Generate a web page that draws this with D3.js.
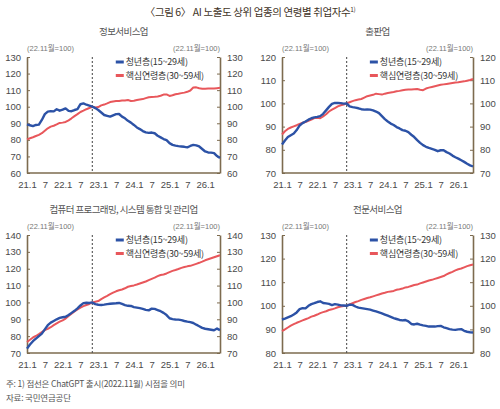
<!DOCTYPE html>
<html>
<head>
<meta charset="utf-8">
<script src="https://cdn.jsdelivr.net/npm/d3@7"></script>
<style>
body { margin: 0; background: #fff; }
svg { display: block; }
</style>
</head>
<body>
<div class="container"></div>
<script>

// ---- data (22.11 = 100), monthly from 21.1 ----
var mainTitle = "〈그림 6〉 AI 노출도 상위 업종의 연령별 취업자수";
var panelTitles = ["정보서비스업", "출판업", "컴퓨터 프로그래밍, 시스템 통합 및 관리업", "전문서비스업"];
var seriesNames = ["청년층(15~29세)", "핵심연령층(30~59세)"];
var baseLabel = "(22.11월=100)";
var xTickIdx = [0, 6, 12, 18, 24, 30, 36, 42, 48, 54, 60];
var xTickLabels = ["21.1", "7", "22.1", "7", "23.1", "7", "24.1", "7", "25.1", "7", "26.1"];
var chatgptIdx = 22;
var notes = ["주: 1) 점선은 ChatGPT 출시(2022.11월) 시점을 의미", "자료: 국민연금공단"];

var yTicks1 = [60, 70, 80, 90, 100, 110, 120, 130];
var yTicks2 = [70, 80, 90, 100, 110, 120];
var yTicks3 = [70, 80, 90, 100, 110, 120, 130, 140];
var yTicks4 = [80, 90, 100, 110, 120, 130];

var youth1 = [89.4, 88.8, 88.3, 89.0, 89.2, 92.0, 95.5, 97.0, 97.3, 97.2, 98.5, 97.6, 98.2, 99.0, 97.5, 97.3, 98.0, 98.5, 101.5, 102.0,
  101.2, 100.6, 100.0, 99.2, 98.0, 96.5, 95.0, 94.5, 94.0, 94.8, 95.5, 95.6, 94.0, 93.0, 91.5, 90.4, 89.0, 87.5, 86.5, 85.3,
  84.5, 84.2, 84.4, 84.0, 82.5, 81.5, 80.5, 79.8, 78.0, 77.0, 76.5, 76.2, 76.0, 75.8, 75.5, 76.3, 77.0, 76.7, 76.0, 74.5,
  73.0, 72.4, 72.3, 72.0, 70.2, 69.0];
var core1 = [80.3, 81.0, 81.6, 82.3, 83.0, 84.0, 85.5, 87.0, 88.0, 88.5, 89.3, 90.2, 90.4, 90.8, 91.8, 93.0, 94.3, 95.5, 96.8, 97.6,
  98.5, 99.2, 100.0, 99.6, 99.8, 100.8, 101.3, 102.0, 102.8, 103.2, 103.4, 103.4, 103.7, 103.8, 104.0, 103.5, 103.6, 104.0, 104.3, 104.6,
  105.2, 105.7, 105.9, 106.0, 106.2, 106.6, 107.3, 107.4, 106.5, 106.9, 107.5, 107.8, 108.2, 108.5, 109.0, 109.8, 111.6, 111.7, 111.1, 110.9,
  110.9, 111.0, 111.0, 111.0, 111.2, 111.4];

var youth2 = [82.3, 84.0, 85.5, 86.3, 87.0, 88.5, 90.5, 91.5, 92.2, 93.0, 93.6, 94.0, 94.2, 94.5, 95.5, 97.0, 98.5, 99.8, 100.2, 100.2,
  100.1, 99.9, 100.0, 98.7, 98.4, 98.2, 97.9, 97.5, 97.3, 97.4, 97.3, 97.0, 96.5, 95.8, 94.5, 93.2, 92.2, 91.3, 90.7, 89.8,
  89.2, 88.5, 88.2, 87.6, 86.5, 85.5, 84.2, 83.0, 82.0, 81.3, 80.8, 80.4, 80.0, 79.4, 79.8, 79.8, 79.0, 78.4, 77.5, 76.8,
  76.2, 75.5, 74.8, 74.0, 73.3, 72.8];
var core2 = [86.6, 88.0, 89.0, 89.6, 90.1, 90.6, 91.2, 91.7, 92.0, 92.5, 93.0, 93.7, 93.8, 93.6, 94.4, 95.3, 96.5, 97.3, 98.0, 98.7,
  99.2, 99.5, 100.0, 100.5, 101.0, 101.4, 101.7, 101.9, 102.5, 103.1, 103.4, 103.7, 104.2, 104.0, 103.8, 104.2, 104.5, 104.7, 104.9, 105.2,
  105.4, 105.7, 105.9, 106.0, 106.0, 106.1, 106.2, 105.9, 105.7, 106.4, 106.8, 107.1, 107.4, 107.7, 108.0, 108.2, 108.4, 108.6, 108.8, 109.0,
  109.1, 109.3, 109.5, 109.8, 110.1, 110.5];

var youth3 = [72.6, 75.0, 77.0, 78.5, 80.0, 81.5, 84.0, 86.5, 88.0, 89.0, 90.0, 90.8, 91.2, 91.5, 92.6, 93.8, 95.0, 96.5, 98.2, 99.6,
  99.8, 99.7, 100.0, 99.0, 98.6, 98.5, 98.7, 99.0, 99.2, 99.4, 99.5, 99.7, 99.1, 98.4, 98.0, 97.9, 97.2, 96.9, 96.6, 96.2,
  95.6, 95.3, 96.3, 96.2, 95.5, 94.8, 93.8, 92.5, 90.6, 90.1, 89.9, 89.8, 89.5, 89.0, 88.6, 88.3, 87.8, 86.8, 85.9, 84.9,
  84.4, 84.1, 83.8, 83.5, 84.5, 83.6];
var core3 = [76.5, 77.9, 79.2, 80.1, 81.2, 82.4, 83.6, 84.3, 85.3, 86.5, 87.6, 88.6, 89.4, 90.4, 92.0, 93.3, 94.6, 95.8, 96.9, 97.8,
  98.5, 99.1, 100.0, 100.4, 100.8, 102.0, 103.0, 103.9, 104.9, 105.8, 106.6, 107.2, 107.7, 108.4, 109.3, 109.7, 110.1, 110.6, 111.2, 111.8,
  112.4, 113.2, 114.0, 114.7, 115.6, 116.3, 116.6, 117.2, 118.0, 118.7, 119.2, 119.8, 120.5, 121.0, 121.4, 121.7, 122.3, 122.9, 123.5, 124.2,
  125.0, 125.6, 126.2, 126.8, 127.4, 128.0];

var youth4 = [94.2, 94.6, 95.1, 95.6, 96.3, 97.2, 98.6, 99.0, 98.9, 100.0, 100.7, 101.1, 101.6, 101.9, 101.2, 101.0, 100.8, 100.3, 100.7, 100.5,
  100.2, 100.1, 100.0, 100.5, 100.4, 99.7, 99.2, 99.0, 98.8, 98.6, 98.4, 98.0, 97.6, 97.2, 96.8, 96.3, 95.8, 95.3, 94.8, 94.4,
  94.0, 93.8, 94.0, 93.4, 92.3, 92.1, 92.4, 92.0, 91.7, 91.5, 91.2, 91.3, 91.2, 91.4, 91.5, 90.9, 90.5, 90.1, 89.9, 89.8,
  90.0, 90.1, 89.4, 89.0, 88.8, 88.7];
var core4 = [89.3, 90.0, 90.8, 91.6, 92.2, 92.8, 93.3, 93.8, 94.3, 94.8, 95.4, 95.8, 96.3, 96.9, 97.3, 97.7, 98.2, 98.5, 98.9, 99.4,
  99.7, 99.9, 100.0, 100.6, 101.1, 101.6, 102.0, 102.5, 102.9, 103.3, 103.6, 104.0, 104.4, 104.8, 105.2, 105.5, 105.9, 106.1, 106.3, 106.8,
  107.0, 107.3, 107.8, 108.0, 108.4, 108.8, 109.0, 109.5, 109.9, 110.3, 110.7, 111.0, 111.4, 111.8, 112.2, 112.6, 113.3, 113.9, 114.4, 115.0,
  115.5, 115.8, 116.3, 116.8, 117.2, 117.5];

// ---- layout ----
var W = 500, H = 409;
var colX = [[27, 220], [282, 473]];
var rowY = [[57, 173], [235, 353]];
var axisColor = "#7d6b4f";
var textColor = "#4a4a4a";
var numFont = "'Liberation Sans', Arial, 'Noto Sans CJK KR', sans-serif";
var krFont = "'Noto Sans CJK KR', 'Noto Sans', sans-serif";
var youthColor = "#2c52a6";
var coreColor = "#e8575b";

var panels = [
	{ title: panelTitles[0], ticks: yTicks1, youth: youth1, core: core1, col: 0, row: 0 },
	{ title: panelTitles[1], ticks: yTicks2, youth: youth2, core: core2, col: 1, row: 0 },
	{ title: panelTitles[2], ticks: yTicks3, youth: youth3, core: core3, col: 0, row: 1 },
	{ title: panelTitles[3], ticks: yTicks4, youth: youth4, core: core4, col: 1, row: 1 }
];

function makeStage(w, h) {
	var stage = d3.select(".container")
		.append("svg")
		.attr("width", w)
		.attr("height", h)
		.attr("viewBox", "0 0 " + w + " " + h);
	return stage;
}

function styleAxis(g) {
	g.select(".domain").attr("stroke", axisColor).attr("stroke-width", 1.6);
	g.selectAll(".tick line").attr("stroke", axisColor).attr("stroke-width", 1);
	g.selectAll(".tick text")
		.attr("fill", textColor)
		.style("font-family", numFont)
		.style("font-size", "9.5px");
}

function drawPanel(stage, p) {
	var x0 = colX[p.col][0], x1 = colX[p.col][1];
	var yb = rowY[p.row][1], yt = rowY[p.row][0];
	var n = p.youth.length;

	var x = d3.scaleLinear().domain([0, n - 1]).range([x0, x1]);
	var y = d3.scaleLinear().domain(d3.extent(p.ticks)).range([yb, yt]);

	var g = stage.append("g");

	// panel title
	g.append("text")
		.attr("x", (x0 + x1) / 2)
		.attr("y", yt - 22)
		.attr("text-anchor", "middle")
		.attr("fill", "#555")
		.style("font-family", krFont)
		.style("font-size", "9.5px")
		.style("letter-spacing", "-0.6px")
		.text(p.title);

	// base labels on both sides
	g.append("text")
		.attr("x", x0)
		.attr("y", yt - 6)
		.attr("fill", "#777")
		.style("font-family", numFont)
		.style("font-size", "7.5px")
		.text(baseLabel);
	g.append("text")
		.attr("x", x1)
		.attr("y", yt - 6)
		.attr("text-anchor", "end")
		.attr("fill", "#777")
		.style("font-family", numFont)
		.style("font-size", "7.5px")
		.text(baseLabel);

	// axes
	var left = g.append("g")
		.attr("transform", "translate(" + x0 + ",0)")
		.call(d3.axisLeft(y).tickValues(p.ticks).tickSizeInner(-3).tickSizeOuter(0).tickPadding(6));
	styleAxis(left);

	var right = g.append("g")
		.attr("transform", "translate(" + x1 + ",0)")
		.call(d3.axisRight(y).tickValues(p.ticks).tickSizeInner(-3).tickSizeOuter(0).tickPadding(7));
	styleAxis(right);

	var bottom = g.append("g")
		.attr("transform", "translate(0," + yb + ")")
		.call(d3.axisBottom(x).tickValues(xTickIdx)
			.tickFormat(function (d, i) { return xTickLabels[i]; })
			.tickSize(0).tickPadding(8));
	styleAxis(bottom);
	bottom.select(".domain").attr("d", "M" + x0 + ",0H" + x1);

	// ChatGPT release marker
	g.append("line")
		.attr("x1", x(chatgptIdx)).attr("x2", x(chatgptIdx))
		.attr("y1", yt).attr("y2", yb)
		.attr("stroke", "#555")
		.attr("stroke-width", 1.1)
		.attr("stroke-dasharray", "2,2");

	var line = d3.line()
		.x(function (d, i) { return x(i); })
		.y(function (d) { return y(d); });

	g.append("path")
		.datum(p.core)
		.attr("d", line)
		.attr("fill", "none")
		.attr("stroke", coreColor)
		.attr("stroke-width", 2)
		.attr("stroke-linejoin", "round");

	g.append("path")
		.datum(p.youth)
		.attr("d", line)
		.attr("fill", "none")
		.attr("stroke", youthColor)
		.attr("stroke-width", 2.4)
		.attr("stroke-linejoin", "round");

	// legend
	var lx = x0 + (x1 - x0) * 0.46;
	var colors = [youthColor, coreColor];
	seriesNames.forEach(function (name, i) {
		var ly = yt + 5 + i * 13.5;
		g.append("line")
			.attr("x1", lx).attr("x2", lx + 8)
			.attr("y1", ly).attr("y2", ly)
			.attr("stroke", colors[i])
			.attr("stroke-width", 3);
		g.append("text")
			.attr("x", lx + 10)
			.attr("y", ly + 3.3)
			.attr("fill", "#333")
			.style("font-family", krFont)
			.style("font-size", "9px")
			.style("letter-spacing", "-0.2px")
			.text(name);
	});
}

var stage = makeStage(W, H);

var title = stage.append("text")
	.attr("x", W / 2)
	.attr("y", 16)
	.attr("text-anchor", "middle")
	.attr("fill", "#3f3428")
	.style("font-family", krFont)
	.style("font-size", "10.5px")
	.style("letter-spacing", "-0.4px")
	.text(mainTitle);
title.append("tspan")
	.attr("dy", -4)
	.style("font-size", "6.5px")
	.text("1)");

panels.forEach(function (p) { drawPanel(stage, p); });

notes.forEach(function (t, i) {
	stage.append("text")
		.attr("x", 6)
		.attr("y", 387 + i * 14)
		.attr("fill", "#555")
		.style("font-family", krFont)
		.style("font-size", "8.5px")
		.style("letter-spacing", "-0.2px")
		.text(t);
});

</script>
</body>
</html>
